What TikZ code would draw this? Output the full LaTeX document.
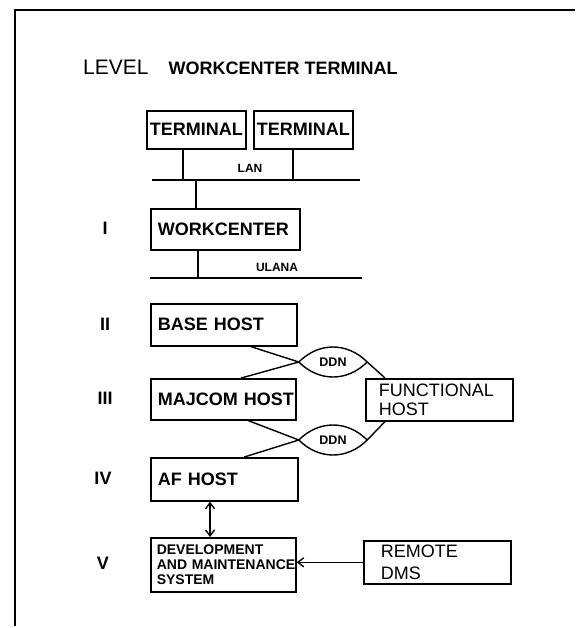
\documentclass[tikz,border=0pt]{standalone}
\usepackage{fontspec}
\setmainfont{Liberation Sans}
\usetikzlibrary{arrows.meta}
\tikzset{
  unit/.style={draw, line width=1.6pt, inner xsep=7pt, inner ysep=0pt, anchor=north west, align=left, font=\fontsize{18}{20}\selectfont\bfseries},
  net/.style={line width=1.4pt},
  ddn/.style={inner sep=0pt, minimum width=68pt, font=\fontsize{12.5}{12.5}\selectfont\bfseries},
  tag/.style={font=\fontsize{12}{12}\selectfont\bfseries},
  lvl/.style={font=\fontsize{18}{18}\selectfont\bfseries},
}

\begin{document}
\begin{tikzpicture}[x=1pt,y=-1pt,>={Straight Barb[length=6pt,width=9pt]}]
    \useasboundingbox (0,0) rectangle (575,628);
    \draw [line width=2pt] (15,626) -- (15,10) -- (575,10);
    \node [anchor=west, inner sep=0pt] (title) at (83,67) {{\fontsize{21}{21}\selectfont LEVEL}\hspace{20pt}{\fontsize{18}{18}\selectfont\bfseries WORKCENTER TERMINAL}};

    \node [unit, inner xsep=3pt, text width=93pt, minimum height=38pt, align=center] (term1) at (146,110) {TERMINAL};
    \node [unit, inner xsep=3pt, text width=93pt, minimum height=38pt, align=center] (term2) at (253,110) {TERMINAL};
    \coordinate (lanW) at (152,180);
    \coordinate (lanE) at (360,180);
    \coordinate (t1foot) at (183,180);
    \coordinate (t2foot) at (293,180);
    \coordinate (lanTap) at (196,180);
    \begin{scope}[net]
    \draw (lanW) -- (lanE);
    \draw (term1.south -| t1foot) -- (t1foot);
    \draw (term2.south -| t2foot) -- (t2foot);
    \end{scope}
    \node [tag] (lan) at (250,168) {LAN};

    \node [unit, text width=135pt, minimum height=41pt] (wc) at (150,208) {WORKCENTER};
    \draw [net] (lanTap) -- (lanTap |- wc.north);
    \coordinate (ulanaW) at (150,278);
    \coordinate (ulanaE) at (362,278);
    \coordinate (wcTap) at (198,278);
    \draw [net] (ulanaW) -- (ulanaE);
    \draw [net] (wc.south -| wcTap) -- (wcTap);
    \node [tag] (ulana) at (277,267) {ULANA};

    \node [unit, text width=132pt, minimum height=42pt] (base) at (150,303) {BASE HOST};
    \node [unit, text width=131pt, minimum height=41pt] (majcom) at (150,378) {\mbox{MAJCOM HOST}};
    \node [unit, inner xsep=13pt, text width=121pt, minimum height=42pt, font=\fontsize{18}{19}\selectfont] (func) at (365,378) {FUNCTIONAL\\HOST};
    \node [ddn, minimum height=30pt] (ddn1) at (333,362) {DDN};
    \node [ddn, minimum height=32pt] (ddn2) at (333,440) {DDN};
    \foreach \d in {ddn1,ddn2}
        \draw [net] (\d.west) .. controls +(20,-20) and +(-20,-20) .. (\d.east) .. controls +(-20,20) and +(20,20) .. (\d.west);
    \node [unit, text width=133pt, minimum height=43pt] (af) at (150,457) {AF HOST};

    \begin{scope}[net]
    \draw ([xshift=27pt]base.south) -- (ddn1.west);
    \draw ([xshift=18pt]majcom.north) -- (ddn1.west);
    \draw (ddn1.east) -- ([xshift=20pt]func.north west);
    \draw ([xshift=25pt]majcom.south) -- (ddn2.west);
    \draw (ddn2.west) -- ([xshift=20pt]af.north);
    \draw (ddn2.east) -- ([xshift=20pt]func.south west);
    \end{scope}

    \node [unit, text width=133pt, minimum height=54pt, inner xsep=6pt, font=\fontsize{14}{15}\selectfont\bfseries] (dms) at (150,537) {DEVELOPMENT\\\mbox{AND MAINTENANCE}\\SYSTEM};
    \node [unit, inner xsep=17pt, text width=113pt, minimum height=43pt, font=\fontsize{18}{22}\selectfont] (remote) at (363,540) {REMOTE\\DMS};
    \coordinate (devTap) at (210,500);
    \draw [net,<->] (af.south -| devTap) -- (dms.north -| devTap);
    \draw [net,->] (remote.west) -- (remote.west -| dms.east);

    \node [lvl] (lvl1) at (105,228) {I};
    \node [lvl] (lvl2) at (105,324) {II};
    \node [lvl] (lvl3) at (105,398) {III};
    \node [lvl] (lvl4) at (103,478) {IV};
    \node [lvl] (lvl5) at (103,563) {V};
\end{tikzpicture}
\end{document}
